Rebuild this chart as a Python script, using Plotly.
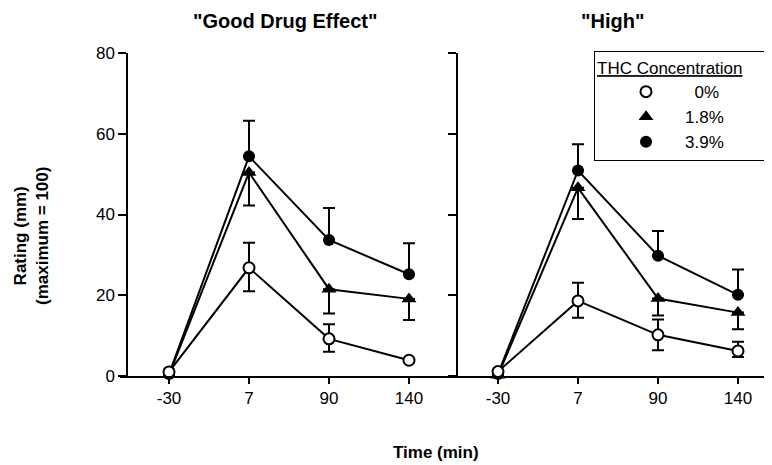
import plotly.graph_objects as go

# ---- data ----
times = ["-30", "7", "90", "140"]
concentrations = ["0%", "1.8%", "3.9%"]

good_0 = [1.0, 26.8, 9.2, 3.9]
good_0_err_up = [0, 6.2, 3.6, 0]
good_0_err_dn = [0, 5.8, 3.2, 0]
good_18 = [0.3, 50.4, 21.5, 19.1]
good_18_err_dn = [0, 8.2, 6.0, 5.2]
good_39 = [0.5, 54.4, 33.7, 25.2]
good_39_err_up = [0, 8.8, 7.9, 7.7]

high_0 = [1.1, 18.6, 10.2, 6.2]
high_0_err_up = [0, 4.5, 3.8, 2.3]
high_0_err_dn = [0, 4.2, 3.8, 1.5]
high_18 = [0.2, 46.6, 19.2, 15.7]
high_18_err_dn = [0, 7.7, 4.2, 4.1]
high_39 = [0.5, 50.9, 29.8, 20.1]
high_39_err_up = [0, 6.5, 6.1, 6.3]

y_ticks = [0, 20, 40, 60, 80]

# page body has an 8px default margin: the figure is sized to fill the rest
W, H = 772, 465
OFF = 8
FW, FH = W - OFF, H - OFF
FONT = "Liberation Sans, Arial, Helvetica, sans-serif"


def px(x):
    return (x - OFF) / FW


def py(y):
    return 1 - (y - OFF) / FH


xi = list(range(len(times)))
zeros = [0] * len(times)

fig = go.Figure()

styles = {
    "0%": dict(symbol="circle", color="white", size=11, line=dict(color="black", width=2)),
    "1.8%": dict(symbol="triangle-up", color="black", size=13, line=dict(color="black", width=0)),
    "3.9%": dict(symbol="circle", color="black", size=12, line=dict(color="black", width=0)),
}


def add_series(xa, ya, y, up, dn, conc):
    fig.add_trace(go.Scatter(
        x=xi, y=y, mode="lines+markers", xaxis=xa, yaxis=ya,
        line=dict(color="black", width=2),
        marker=styles[conc],
        error_y=dict(type="data", symmetric=False, array=up, arrayminus=dn,
                     color="black", thickness=2, width=6),
        showlegend=False, cliponaxis=False, hoverinfo="skip",
    ))


add_series("x", "y", good_39, good_39_err_up, zeros, "3.9%")
add_series("x", "y", good_18, zeros, good_18_err_dn, "1.8%")
add_series("x", "y", good_0, good_0_err_up, good_0_err_dn, "0%")
add_series("x2", "y2", high_39, high_39_err_up, zeros, "3.9%")
add_series("x2", "y2", high_18, zeros, high_18_err_dn, "1.8%")
add_series("x2", "y2", high_0, high_0_err_up, high_0_err_dn, "0%")

label_pad = {"0%": "&nbsp;&nbsp;", "1.8%": "", "3.9%": ""}
for conc in concentrations:
    fig.add_trace(go.Scatter(
        x=[None], y=[None], mode="markers", name=label_pad[conc] + conc,
        marker=styles[conc], xaxis="x2", yaxis="y2", showlegend=True,
    ))

ydom = [py(376), py(53)]
axis_common = dict(showgrid=False, zeroline=False, showline=True, linecolor="black",
                   linewidth=1.5, ticks="outside", tickcolor="black", tickwidth=1.5,
                   tickfont=dict(size=17))

fig.update_layout(
    width=FW, height=FH,
    margin=dict(l=0, r=0, t=0, b=0, autoexpand=False),
    plot_bgcolor="white", paper_bgcolor="white",
    font=dict(family=FONT, size=17, color="black"),
    xaxis=dict(domain=[px(120), px(459)], range=[-0.6125, 3.625], tickvals=xi, ticktext=times,
               ticklen=6, anchor="y", **axis_common),
    yaxis=dict(domain=ydom, range=[0, 80], tickvals=y_ticks, ticklen=8,
               anchor="free", position=px(127), **axis_common),
    xaxis2=dict(domain=[px(458), 1], range=[-0.5, 3.425], tickvals=xi, ticktext=times,
                ticklen=6, anchor="y2", **axis_common),
    yaxis2=dict(domain=ydom, range=[0, 80], tickvals=y_ticks, ticklen=8, showticklabels=False,
                anchor="x2", **axis_common),
    legend=dict(x=px(594), y=py(51), xanchor="left", yanchor="top",
                bordercolor="black", borderwidth=1, bgcolor="white",
                font=dict(size=17), itemwidth=68, indentation=12,
                title=dict(text="<u>THC Concentration</u>" + "&nbsp;" * 10, font=dict(size=17))),
    showlegend=True,
)

annotations = [
    dict(text="<b>\"Good Drug Effect\"</b>", x=px(285), y=py(21), font=dict(size=20)),
    dict(text="<b>\"High\"</b>", x=px(612), y=py(21), font=dict(size=20)),
    dict(text="<b>Time (min)</b>", x=px(436), y=py(452), font=dict(size=17)),
    dict(text="<b>Rating (mm)<br>(maximum = 100)</b>", x=px(31), y=py(236), textangle=-90,
         font=dict(size=17)),
]
for a in annotations:
    fig.add_annotation(xref="paper", yref="paper", showarrow=False, xanchor="center",
                       yanchor="middle", **a)

fig.write_html("out.html")
